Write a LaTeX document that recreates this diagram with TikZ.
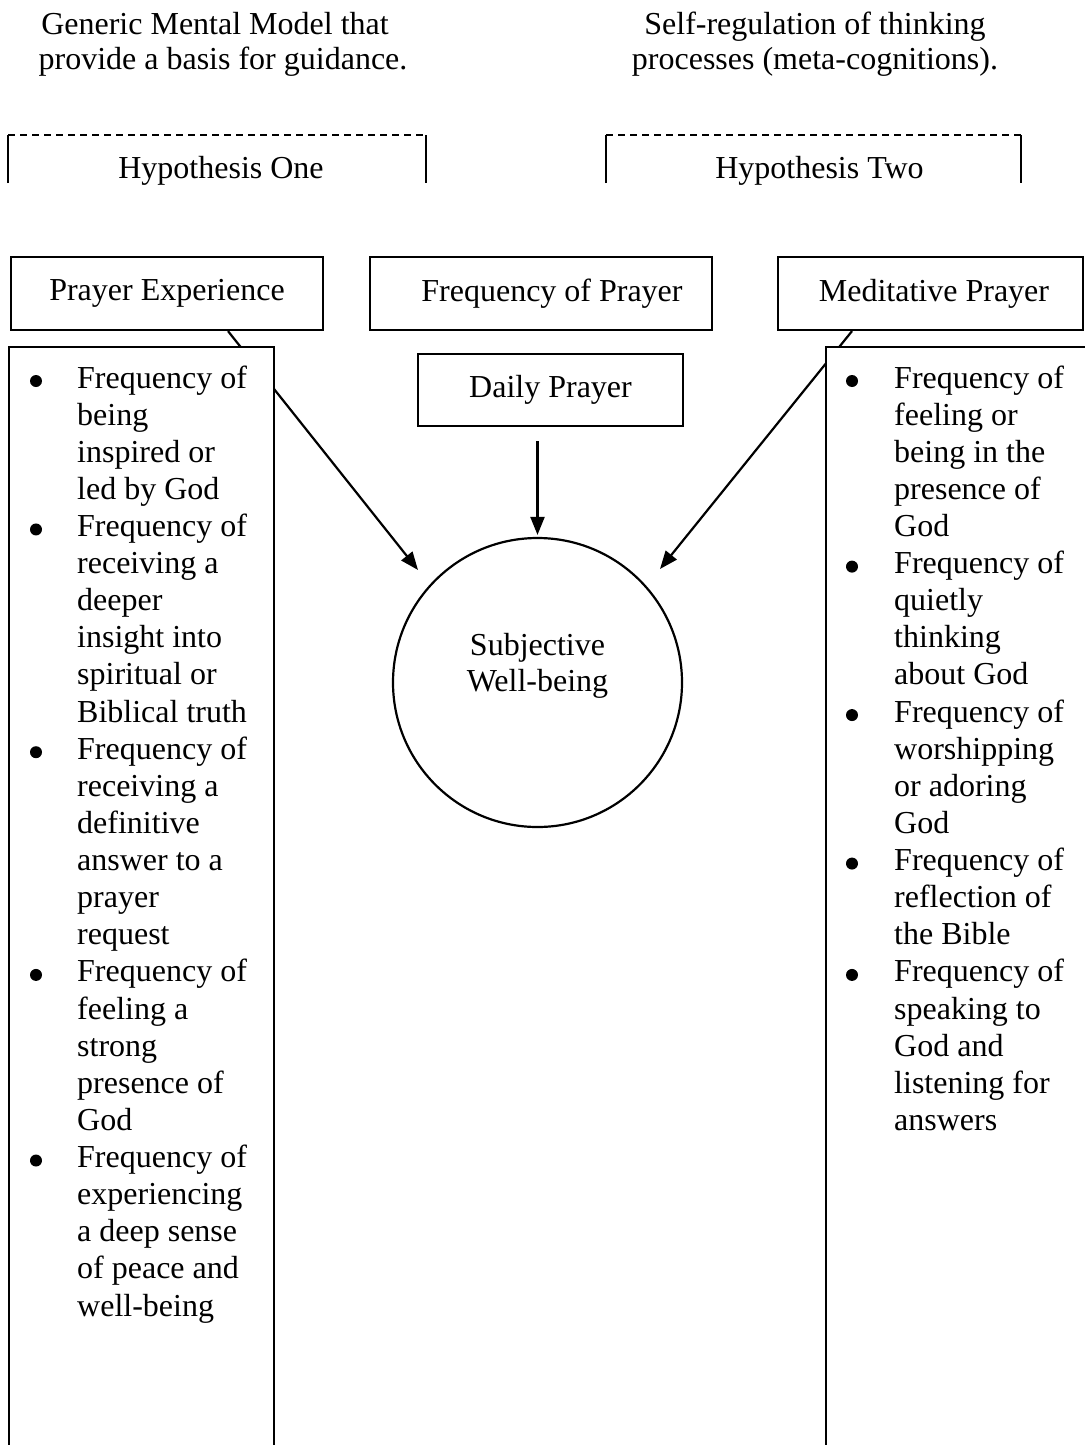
\documentclass[tikz,border=0pt]{standalone}
\usepackage{fontspec}
\setmainfont{Liberation Serif}
\usetikzlibrary{arrows.meta}
\begin{document}
\begin{tikzpicture}[x=1pt,y=-1pt,
  every node/.style={font=\fontsize{32}{37.1}\selectfont, inner sep=0pt},
  box/.style={draw, line width=2.2pt, rectangle},
  circ/.style={draw, line width=2.2pt, circle},
  arr/.style={line width=2.2pt, -{Triangle[length=18pt,width=14pt]}},
  hypdash/.style={line width=2pt, dash pattern=on 7pt off 5pt},
  hypside/.style={line width=2.2pt},
  bul/.style={fill=black}]
\path[use as bounding box] (0,0) rectangle (1084,1445);

% top captions
\node[anchor=base] (gm1) at (215,35) {Generic Mental Model that};
\node[anchor=base] (gm2) at (223,70) {provide a basis for guidance.};
\node[anchor=base] (sr1) at (815,35) {Self-regulation of thinking};
\node[anchor=base] (sr2) at (815,70) {processes (meta-cognitions).};

% hypothesis brackets
\coordinate (h1a) at (8,183);
\coordinate (h1b) at (8,135);
\coordinate (h1c) at (426,135);
\coordinate (h1d) at (426,183);
\draw[hypdash] (h1b) -- (h1c);
\draw[hypside] (h1a) -- (h1b);
\draw[hypside] (h1c) -- (h1d);
\node[anchor=base] (h1) at (221,178) {Hypothesis One};

\coordinate (h2a) at (606,183);
\coordinate (h2b) at (606,135);
\coordinate (h2c) at (1021,135);
\coordinate (h2d) at (1021,183);
\draw[hypdash] (h2b) -- (h2c);
\draw[hypside] (h2a) -- (h2b);
\draw[hypside] (h2c) -- (h2d);
\node[anchor=base] (h2) at (819.5,178) {Hypothesis Two};

% header boxes
\node[box, minimum width=312pt, minimum height=73pt] (pe) at (167,293.5) {Prayer Experience};
\node[box, minimum width=342pt, minimum height=73pt] (fp) at (541,293.5) {\hspace{22pt}Frequency of Prayer};
\node[box, minimum width=305pt, minimum height=73pt] (mp) at (930.5,293.5) {\hspace{7pt}Meditative Prayer};
\node[box, minimum width=265pt, minimum height=72pt] (dp) at (550.5,390) {Daily Prayer};

% outcome circle
\node[circ, minimum size=289pt] (swb) at (537.5,682.5) {};
\node[anchor=base] (swb1) at (537.5,655) {Subjective};
\node[anchor=base] (swb2) at (537.5,691.7) {Well-being};

% arrows
\coordinate (tipL) at (418,570);
\coordinate (tipR) at (660,569);
\draw[arr] ([xshift=61pt]pe.south) -- (tipL);
\draw[arr] ([xshift=-78.5pt]mp.south) -- (tipR);
\draw[arr, shorten <=14pt, shorten >=2pt] (dp.south -| swb.north) -- (swb.north);

% list boxes (cover the arrows)
\node[box, fill=white, anchor=north west, minimum width=265pt, minimum height=1120pt] (lbox) at (8,346) {};
\node[box, fill=white, anchor=north west, minimum width=280pt, minimum height=1120pt] (rbox) at (825,346) {};

% left list
\foreach \t [count=\i] in {Frequency of, being, inspired or, led by God,
  Frequency of, receiving a, deeper, insight into, spiritual or, Biblical truth,
  Frequency of, receiving a, definitive, answer to a, prayer, request,
  Frequency of, feeling a, strong, presence of, God,
  Frequency of, experiencing, a deep sense, of peace and, well-being}
  \node[anchor=base west] (l\i) at (77,{388+(\i-1)*37.12}) {\t};
\foreach \i in {1,5,11,17,22}
  \fill[bul] (36,{381+(\i-1)*37.12}) circle (6pt);

% right list
\foreach \t [count=\i] in {Frequency of, feeling or, being in the, presence of, God,
  Frequency of, quietly, thinking, about God,
  Frequency of, worshipping, or adoring, God,
  Frequency of, reflection of, the Bible,
  Frequency of, speaking to, God and, listening for, answers}
  \node[anchor=base west] (r\i) at (894,{388+(\i-1)*37.12}) {\t};
\foreach \i in {1,6,10,14,17}
  \fill[bul] (852,{381+(\i-1)*37.12}) circle (6pt);
\end{tikzpicture}
\end{document}
